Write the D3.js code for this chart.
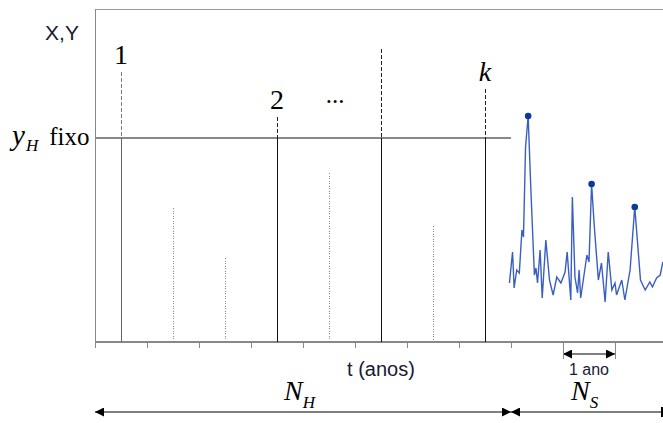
<!DOCTYPE html>
<html lang="pt">
<head>
<meta charset="UTF-8">
<title>Series</title>
<script src="https://cdnjs.cloudflare.com/ajax/libs/d3/7.8.5/d3.min.js"></script>
<style>
  body { margin: 0; background: #fff; }
  .serif { font-family: "Liberation Serif", "Times New Roman", serif; }
  .sans { font-family: "Liberation Sans", Arial, sans-serif; }
  .crisp { shape-rendering: crispEdges; }
</style>
</head>
<body>
<div id="chart"></div>
<script>
// annual maxima, one per year (drawn at mid-year)
var annualMax = [270, 134, 84, 225, 169, 293, 116, 253];
var yH = 204;                       // fixed threshold y_H
var peakLabels = ["1", "2", null, "k"];

// simulated series (t in years, value)
var seriesT = [7.97, 8.03, 8.06, 8.11, 8.16, 8.21, 8.24, 8.28, 8.33, 8.38, 8.45, 8.48, 8.51, 8.56, 8.60,
               8.67, 8.74, 8.81, 8.88, 8.96, 9.04, 9.08, 9.15, 9.18, 9.23, 9.28, 9.31, 9.34, 9.46, 9.50,
               9.55, 9.60, 9.68, 9.74, 9.81, 9.87, 9.94, 10.00, 10.03, 10.13, 10.19, 10.29, 10.38, 10.49,
               10.58, 10.67, 10.72, 10.80, 10.87, 10.92];
var seriesV = [59, 90, 54, 72, 69, 112, 105, 195, 226, 155, 67, 74, 59, 92, 44,
               102, 62, 47, 65, 59, 70, 90, 42, 145, 65, 49, 72, 44, 87, 80,
               158, 117, 62, 79, 40, 90, 52, 59, 47, 62, 42, 72, 135, 62,
               52, 60, 55, 64, 67, 80];

var NH = 8, NS = 3;   // years of each block
var yearTicks = d3.range(0, 12);

var width = 663, height = 423;
var svg = d3.select("#chart").append("svg")
    .attr("width", width).attr("height", height);

var x = d3.scaleLinear().domain([0, 11]).range([95, 667]);
var y = d3.scaleLinear().domain([0, 333]).range([342, 9]);

// arrow markers
var defs = svg.append("defs");
defs.append("marker")
    .attr("id", "arr")
    .attr("viewBox", "0 0 10 10")
    .attr("refX", 10).attr("refY", 5)
    .attr("markerWidth", 9).attr("markerHeight", 9)
    .attr("markerUnits", "userSpaceOnUse")
    .attr("orient", "auto-start-reverse")
    .append("path").attr("d", "M0,0 L10,5 L0,10 z").attr("fill", "#000");

// frame
svg.append("line").attr("class", "crisp").attr("x1", x(0)).attr("x2", width).attr("y1", y(333)).attr("y2", y(333))
    .attr("stroke", "#999");
svg.append("line").attr("class", "crisp").attr("x1", x(0)).attr("x2", x(0)).attr("y1", y(333)).attr("y2", y(0))
    .attr("stroke", "#888");

// time axis
var axis = svg.append("g").attr("class", "crisp").attr("transform", "translate(0," + y(0) + ")")
    .call(d3.axisBottom(x).tickValues(yearTicks).tickSize(6).tickFormat(""));
axis.select(".domain").attr("stroke", "#888").attr("stroke-width", 1.5).attr("d", "M" + x(0) + ",0H" + width);
axis.selectAll(".tick line").attr("stroke", "#888");

// threshold line
svg.append("line").attr("class", "crisp")
    .attr("x1", x(0)).attr("x2", x(NH))
    .attr("y1", y(yH)).attr("y2", y(yH))
    .attr("stroke", "#888").attr("stroke-width", 1.5);

var maxData = annualMax.map(function (v, i) { return { t: i + 0.5, v: v, over: v > yH }; });

// below threshold: dotted
svg.selectAll(".below").data(maxData.filter(function (d) { return !d.over; }))
    .enter().append("line").attr("class", "crisp")
    .attr("x1", function (d) { return x(d.t); }).attr("x2", function (d) { return x(d.t); })
    .attr("y1", function (d) { return y(d.v); }).attr("y2", y(0) - 2)
    .attr("stroke", "#8a8a8a").attr("stroke-dasharray", "1,1.5");

var over = maxData.filter(function (d) { return d.over; });
// above threshold: solid up to y_H, dashed above
svg.selectAll(".overSolid").data(over).enter().append("line").attr("class", "crisp")
    .attr("x1", function (d) { return x(d.t); }).attr("x2", function (d) { return x(d.t); })
    .attr("y1", y(yH)).attr("y2", y(0))
    .attr("stroke", function (d, i) { return i === 0 ? "#666" : "#111"; });
svg.selectAll(".overDash").data(over).enter().append("line").attr("class", "crisp")
    .attr("x1", function (d) { return x(d.t); }).attr("x2", function (d) { return x(d.t); })
    .attr("y1", function (d) { return y(d.v); }).attr("y2", y(yH))
    .attr("stroke", function (d, i) { return i === 0 ? "#777" : "#222"; })
    .attr("stroke-dasharray", "4,2");

svg.selectAll(".plab").data(over).enter().append("text")
    .attr("class", "serif")
    .attr("x", function (d) { return x(d.t); })
    .attr("y", function (d) { return y(d.v) - 8; })
    .attr("text-anchor", "middle")
    .attr("font-size", 28)
    .style("font-style", function (d, i) { return peakLabels[i] === "k" ? "italic" : "normal"; })
    .text(function (d, i) { return peakLabels[i]; });

svg.append("text").attr("class", "serif")
    .attr("x", (x(over[1].t) + x(over[2].t)) / 2 + 6).attr("y", y(over[1].v) - 14)
    .attr("text-anchor", "middle").attr("font-size", 25).text("...");

// simulated series
var series = seriesT.map(function (t, i) { return { t: t, v: seriesV[i] }; });
svg.append("path").datum(series)
    .attr("fill", "none").attr("stroke", "#3a5fc0").attr("stroke-width", 1.4)
    .attr("d", d3.line().x(function (d) { return x(d.t); }).y(function (d) { return y(d.v); }));

var yearPeaks = d3.range(NH, NH + NS).map(function (yr) {
    var pts = series.filter(function (d) { return d.t >= yr && d.t < yr + 1; });
    return pts[d3.maxIndex(pts, function (d) { return d.v; })];
});
svg.selectAll(".pk").data(yearPeaks).enter().append("circle")
    .attr("cx", function (d) { return x(d.t); }).attr("cy", function (d) { return y(d.v); })
    .attr("r", 3.3).attr("fill", "#0b3a9a");

// labels
svg.append("text").attr("class", "sans").attr("x", 62).attr("y", 40)
    .attr("text-anchor", "middle").attr("font-size", 21).attr("fill", "#1a1a33").text("X,Y");

var yl = svg.append("text").attr("class", "serif").attr("x", 12).attr("y", y(yH) + 7);
yl.append("tspan").attr("font-size", 29).style("font-style", "italic").text("y");
yl.append("tspan").attr("font-size", 17).style("font-style", "italic").attr("dy", 6).attr("dx", 1).text("H");
yl.append("tspan").attr("font-size", 25).attr("dy", -6).attr("dx", 11).text("fixo");

svg.append("text").attr("class", "sans").attr("x", 381).attr("y", 376)
    .attr("text-anchor", "middle").attr("font-size", 20).attr("fill", "#1a1a33").text("t (anos)");

// 1 ano
var ay = 354;
svg.append("line").attr("x1", x(9)).attr("x2", x(10)).attr("y1", ay).attr("y2", ay)
    .attr("stroke", "#000").attr("stroke-width", 1.2)
    .attr("marker-start", "url(#arr)").attr("marker-end", "url(#arr)");
svg.selectAll(".endbar").data([9, 10]).enter().append("line").attr("class", "crisp")
    .attr("x1", function (d) { return x(d); }).attr("x2", function (d) { return x(d); })
    .attr("y1", y(0)).attr("y2", 359).attr("stroke", "#888");
svg.append("text").attr("class", "sans").attr("x", (x(9) + x(10)) / 2).attr("y", 375)
    .attr("text-anchor", "middle").attr("font-size", 16).attr("fill", "#1a1a33").text("1 ano");

// N_H and N_S spans
var by = 412;
svg.append("line").attr("x1", x(0)).attr("x2", x(NH)).attr("y1", by).attr("y2", by)
    .attr("stroke", "#000").attr("stroke-width", 1.2)
    .attr("marker-start", "url(#arr)").attr("marker-end", "url(#arr)");
svg.append("line").attr("x1", x(NH)).attr("x2", width - 1).attr("y1", by).attr("y2", by)
    .attr("stroke", "#000").attr("stroke-width", 1.2)
    .attr("marker-start", "url(#arr)");
svg.append("line").attr("x1", width - 1).attr("x2", width - 1).attr("y1", by - 5).attr("y2", by + 5)
    .attr("stroke", "#000").attr("stroke-width", 2);

function spanLabel(cx, sub) {
    var t = svg.append("text").attr("class", "serif").attr("x", cx).attr("y", 400)
        .style("font-style", "italic");
    t.append("tspan").attr("font-size", 28).text("N");
    t.append("tspan").attr("font-size", 17).attr("dy", 8).text(sub);
}
spanLabel(284, "H");
spanLabel(571, "S");
</script>
</body>
</html>
